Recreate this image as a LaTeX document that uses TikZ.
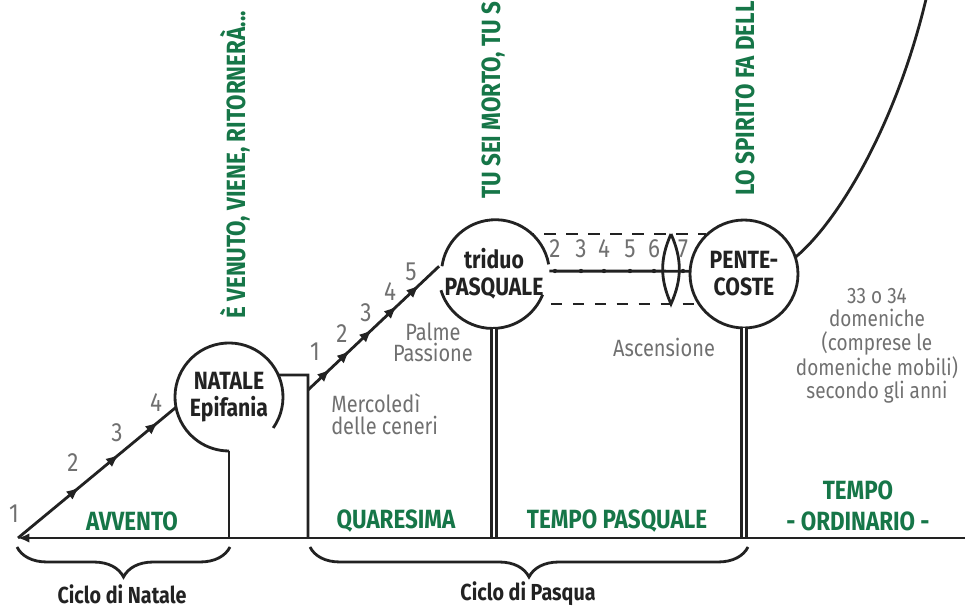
\documentclass[tikz,border=0pt]{standalone}
\usepackage{fontspec}
\setmainfont{Fira Sans}[FakeStretch=0.85]
\usetikzlibrary{arrows.meta,decorations.markings,decorations.pathreplacing}
\definecolor{verde}{RGB}{22,118,72}
\definecolor{grigio}{RGB}{112,112,112}
\definecolor{tratto}{RGB}{34,34,34}
\newcommand\punta{\arrow{Latex[length=7.5pt,width=6pt]}}

\begin{document}
\begin{tikzpicture}[x=0.02cm, y=0.02cm, line width=1.6pt, draw=tratto,
    festa/.style={circle, minimum size=2.16cm, inner sep=0pt, outer sep=0pt, fill=white,
      align=center, text=tratto, font=\fontsize{14.2}{15.3}\selectfont\bfseries},
    tempo/.style={text=verde, align=center, font=\fontsize{15}{17.6}\selectfont\bfseries},
    motto/.style={text=verde, rotate=90, anchor=base west, inner sep=0pt,
      font=\fontsize{15}{18}\selectfont\bfseries},
    nota/.style={text=grigio, align=center, font=\fontsize{13.4}{12.3}\selectfont},
    num/.style={text=grigio, font=\fontsize{15}{16}\selectfont},
    ciclo/.style={text=tratto, font=\fontsize{13.2}{16}\selectfont\bfseries},
    graffa/.style={decorate, decoration={brace, mirror, amplitude=0.6cm}},
    doppia/.style={double=white, double distance=1.5pt, line width=1.3pt},
    tratteggio/.style={dash pattern=on 6.5pt off 6pt}]
    \useasboundingbox (0,0) rectangle (965,-607);

    \coordinate (inizio) at (18,-538);
    \coordinate (fine) at (965,-538);
    \coordinate (ceneri) at (308,-390);
    \coordinate (gradino) at (308,-375);
    \coordinate (ascsu) at (671,-234);
    \coordinate (ascgiu) at (671,-304);

    \draw[tratteggio] (533,-234) rectangle (705,-304);

    \node[festa] (natale) at (229,-397) {NATALE\\Epifania};
    \node[festa] (triduo) at (494,-274) {triduo\\PASQUALE};
    \node[festa, draw] (pentecoste) at (744,-274) {PENTE-\\COSTE};

    \draw (natale.-35) arc[start angle=-35, end angle=270, radius=54];
    \draw (triduo.10) arc[start angle=10, end angle=172, radius=54];
    \draw (triduo.197) arc[start angle=197, end angle=338, radius=54];

    \draw[postaction=decorate, decoration={markings,
        mark=at position 0.39 with {\punta},
        mark=at position 0.64 with {\punta},
        mark=at position 0.89 with {\punta}}] (inizio) -- (natale.191);
    \draw (natale.270) -- (natale.270 |- inizio);
    \draw (natale.24) -- (gradino) -- (gradino |- inizio);
    \draw[postaction=decorate, decoration={markings,
        mark=at position 0.17 with {\punta},
        mark=at position 0.32 with {\punta},
        mark=at position 0.49 with {\punta},
        mark=at position 0.68 with {\punta},
        mark=at position 0.85 with {\punta}}] (ceneri) -- (triduo.172);

    \draw (triduo.3) -- (pentecoste.177);
    \draw (ascsu) to[bend left=24] (ascgiu) to[bend left=24] (ascsu);
    \foreach \x/\n in {555/2, 581/3, 604/4, 630/5, 654/6, 683/7} {
        \fill[tratto] (\x,-271) circle[radius=2.2];
        \node[num] (s\n) at (\x,-249) {\n};
    }

    \draw[doppia] (triduo.south) -- (triduo.south |- inizio);
    \draw[doppia] (pentecoste.south) -- (pentecoste.south |- inizio);
    \draw (pentecoste.18) .. controls (840,-220) and (898,-120) .. (927,5);
    \draw[{Latex[length=6.5pt,width=5.5pt]}-] (inizio) -- (fine);

    \foreach \x/\y/\n in {14/514/1, 73/463/2, 117/433/3, 156/403/4}
        \node[num] (n\n) at (\x,-\y) {\n};
    \foreach \x/\y/\n in {315/352/1, 342/334/2, 366/313/3, 390/292/4, 411/272/5}
        \node[num] (q\n) at (\x,-\y) {\n};

    \node[nota, font=\fontsize{13.4}{12}\selectfont] (palme) at (433,-342) {Palme\\Passione};
    \node[nota, align=left, anchor=west] (mercoledi) at (324,-414) {Mercoledì\\delle ceneri};
    \node[nota] (ascensione) at (664,-347) {Ascensione};
    \node[nota, font=\fontsize{12.7}{13.2}\selectfont] (domeniche) at (877,-346)
        {33 o 34\\domeniche\\(comprese le\\domeniche mobili)\\secondo gli anni};

    \node[tempo] (avvento) at (132,-521) {AVVENTO};
    \node[tempo] (quaresima) at (396,-521) {QUARESIMA};
    \node[tempo] (pasquale) at (617,-521) {TEMPO PASQUALE};
    \node[tempo] (ordinario) at (858,-506) {TEMPO\\- ORDINARIO -};

    \node[motto] (venuto) at (245,-320) {È VENUTO, VIENE, RITORNERÀ...};
    \node[motto] (morto) at (500,-200) {TU SEI MORTO, TU S};
    \node[motto] (spirito) at (754,-197) {LO SPIRITO FA DELL};

    \draw[graffa] (17,-547) -- (230,-547);
    \draw[graffa] (310,-547) -- (748,-547);
    \node[ciclo] (cnatale) at (122,-594) {Ciclo di Natale};
    \node[ciclo] (cpasqua) at (528,-594) {Ciclo di Pasqua};
\end{tikzpicture}
\end{document}
